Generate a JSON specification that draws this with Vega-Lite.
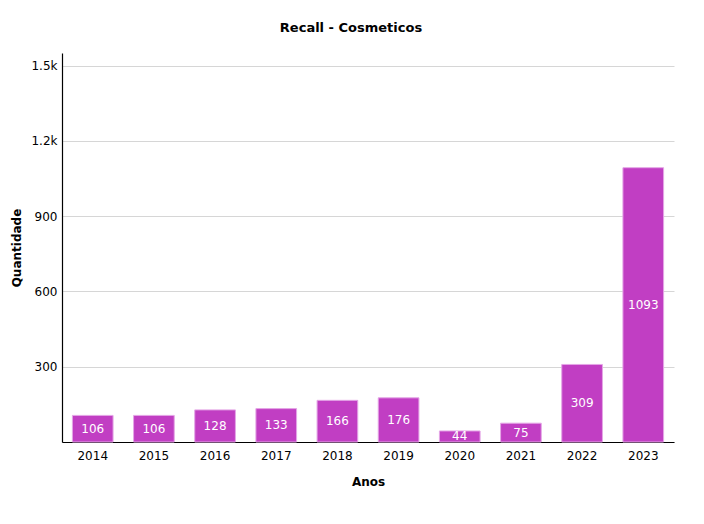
{
  "$schema": "https://vega.github.io/schema/vega-lite/v6.json",
  "autosize": "none",
  "width": 612,
  "height": 389,
  "padding": {"left": 62, "top": 53, "right": 30, "bottom": 82},
  "background": "white",
  "title": {"text": "Recall - Cosmeticos", "font": "DejaVu Sans", "fontSize": 13, "fontWeight": "bold", "color": "#000000", "anchor": "middle", "dx": -17, "offset": 18},
  "config": {"view": {"stroke": null}, "font": "DejaVu Sans"},
  "data": {"values": [
    {"ano": "2014", "qtd": 106},
    {"ano": "2015", "qtd": 106},
    {"ano": "2016", "qtd": 128},
    {"ano": "2017", "qtd": 133},
    {"ano": "2018", "qtd": 166},
    {"ano": "2019", "qtd": 176},
    {"ano": "2020", "qtd": 44},
    {"ano": "2021", "qtd": 75},
    {"ano": "2022", "qtd": 309},
    {"ano": "2023", "qtd": 1093}
  ]},
  "encoding": {
    "x": {"field": "ano", "type": "nominal", "sort": null,
      "scale": {"paddingInner": 0.335, "paddingOuter": 0.17},
      "axis": {"title": "Anos", "labelAngle": 0, "ticks": false, "labelPadding": 8, "labelFontSize": 12, "labelColor": "#000000", "titleFontSize": 12, "titleFontWeight": "bold", "titleColor": "#000000", "titlePadding": 15, "domainColor": "#000000", "domainWidth": 1.2, "grid": false}}
  },
  "layer": [
    {"mark": {"type": "bar", "color": "#C13EC3", "stroke": "#E4A6E6", "strokeWidth": 1},
      "encoding": {"y": {"field": "qtd", "type": "quantitative",
        "scale": {"domain": [0, 1550], "nice": false},
        "axis": {"title": "Quantidade", "values": [0, 300, 600, 900, 1200, 1500], "labelExpr": "datum.value == 0 ? '' : format(datum.value, '~s')", "ticks": false, "labelPadding": 5, "labelFontSize": 12, "labelColor": "#000000", "titleFontSize": 12, "titleFontWeight": "bold", "titleColor": "#000000", "titlePadding": 7, "domainColor": "#000000", "domainWidth": 1.2, "gridColor": "#d6d6d6", "gridWidth": 1}}}},
    {"transform": [{"calculate": "datum.qtd / 2", "as": "meio"}],
      "mark": {"type": "text", "color": "#ffffff", "fontSize": 12, "baseline": "middle", "font": "DejaVu Sans"},
      "encoding": {"y": {"field": "meio", "type": "quantitative"}, "text": {"field": "qtd", "type": "quantitative"}}}
  ]
}
